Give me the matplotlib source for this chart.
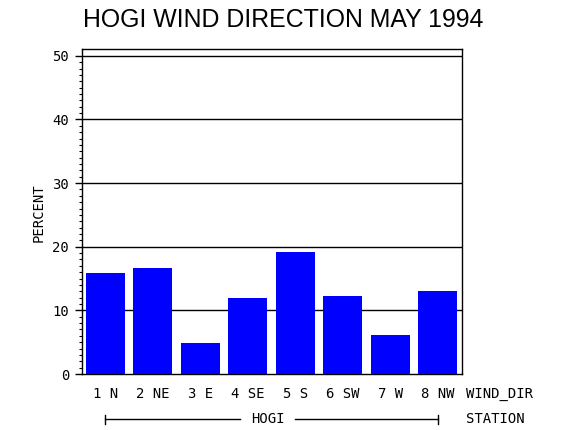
import numpy as np
import matplotlib.pyplot as plt

# wind direction percentages, HOGI May 1994
directions = ['1 N', '2 NE', '3 E', '4 SE', '5 S', '6 SW', '7 W', '8 NW']
percent = [15.8, 16.7, 4.8, 11.9, 19.1, 12.2, 6.1, 13.1]
station = 'HOGI'

mono = 'DejaVu Sans Mono'
fs = 10

fig = plt.figure(figsize=(5.7, 4.3), dpi=100)
ax = fig.add_axes([0.1433, 0.1302, 0.6667, 0.7548])

x = np.arange(1, len(directions) + 1)
ax.bar(x, percent, width=0.82, color='#0000ff', zorder=3)

ax.set_xlim(0.5, len(directions) + 0.5)
ax.set_ylim(0, 51)
ax.set_yticks(np.arange(0, 51, 10))
ax.set_yticks(np.arange(0, 51, 1), minor=True)
ax.set_yticklabels([str(v) for v in range(0, 51, 10)], family=mono, fontsize=fs)
ax.tick_params(axis='y', which='major', length=5, width=1, pad=4)
ax.tick_params(axis='y', which='minor', length=2.5, width=0.8)
ax.set_xticks([])
for yv in range(10, 51, 10):
    ax.axhline(yv, color='black', linewidth=1, zorder=2)
for s in ax.spines.values():
    s.set_linewidth(1)

# category labels below the bars
tr = ax.get_xaxis_transform()
for xi, lab in zip(x, directions):
    ax.text(xi, -0.062, lab, transform=tr, ha='center', va='center',
            family=mono, fontsize=fs)
ax.text(1.01, -0.062, 'WIND_DIR', transform=ax.transAxes, ha='left', va='center',
        family=mono, fontsize=fs)
ax.text(1.01, -0.139, 'STATION', transform=ax.transAxes, ha='left', va='center',
        family=mono, fontsize=fs)

# station bracket spanning all bars
mid = (x[0] + x[-1]) / 2 - 0.085
gap = 0.58
ax.text(mid, -0.139, station, transform=tr, ha='center', va='center',
        family=mono, fontsize=fs, clip_on=False)
for a, b in [(x[0], mid - gap), (mid + gap, x[-1])]:
    ax.plot([a, b], [-0.139, -0.139], transform=tr, color='black',
            linewidth=1, clip_on=False)
for e in (x[0], x[-1]):
    ax.plot([e, e], [-0.125, -0.153], transform=tr, color='black',
            linewidth=1, clip_on=False)

fig.text(0.068, 0.505, 'PERCENT', rotation=90, ha='center', va='center',
         family=mono, fontsize=fs)
fig.text(0.497, 0.953, 'HOGI WIND DIRECTION MAY 1994', ha='center', va='center',
         family='Liberation Sans', fontsize=17.9)

fig.savefig('out.png', dpi=100)
